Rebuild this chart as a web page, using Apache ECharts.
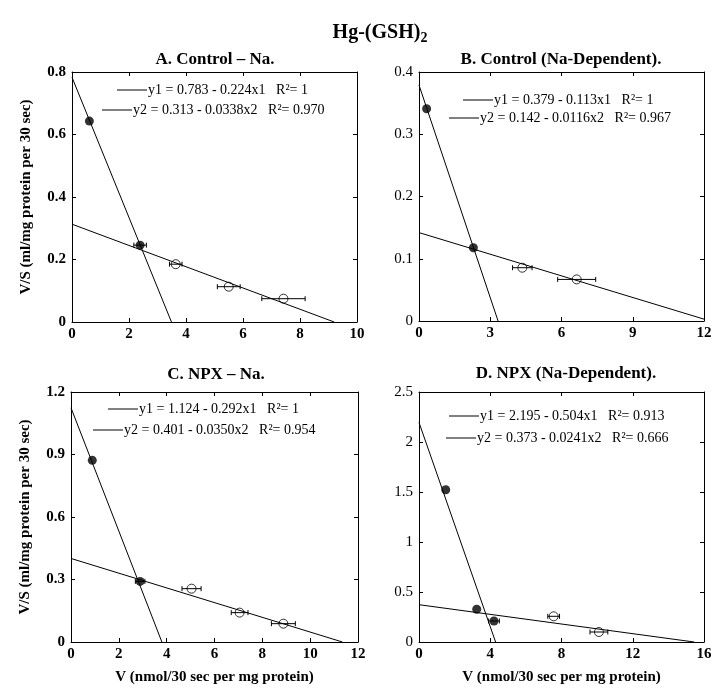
<!DOCTYPE html>
<html>
<head>
<meta charset="utf-8">
<script src="https://cdn.jsdelivr.net/npm/echarts@6/dist/echarts.min.js"></script>
<style>html,body{margin:0;padding:0;background:#fff}#c{width:722px;height:695px}</style>
</head>
<body>
<div id="c"></div>
<script>
// ---- data ----
const panelTitles = ['A. Control \u2013 Na.', 'B. Control (Na-Dependent).', 'C. NPX \u2013 Na.', 'D. NPX (Na-Dependent).'];
const xMax = [10, 12, 12, 16];
const xStep = [2, 3, 2, 4];
const yMax = [0.8, 0.4, 1.2, 2.5];
const yStep = [0.2, 0.1, 0.3, 0.5];

const legendA = ['y1 = 0.783 - 0.224x1   R\u00b2= 1', 'y2 = 0.313 - 0.0338x2   R\u00b2= 0.970'];
const legendB = ['y1 = 0.379 - 0.113x1   R\u00b2= 1', 'y2 = 0.142 - 0.0116x2   R\u00b2= 0.967'];
const legendC = ['y1 = 1.124 - 0.292x1   R\u00b2= 1', 'y2 = 0.401 - 0.0350x2   R\u00b2= 0.954'];
const legendD = ['y1 = 2.195 - 0.504x1   R\u00b2= 0.913', 'y2 = 0.373 - 0.0241x2   R\u00b2= 0.666'];

// fitted line end points [x, y]
const fitA1 = [[0, 0.783], [3.49, 0]];
const fitA2 = [[0, 0.313], [9.2, 0]];
const fitB1 = [[0, 0.379], [3.33, 0]];
const fitB2 = [[0, 0.142], [12, 0.003]];
const fitC1 = [[0, 1.124], [3.8, 0]];
const fitC2 = [[0, 0.401], [11.35, 0]];
const fitD1 = [[0, 2.195], [4.3, 0]];
const fitD2 = [[0, 0.373], [15.45, 0]];

// points [x, y, x error]
const filledA = [[0.61, 0.643, 0], [2.39, 0.246, 0.22]];
const openA = [[3.64, 0.185, 0.22], [5.5, 0.113, 0.4], [7.42, 0.0746, 0.76]];
const filledB = [[0.32, 0.341, 0], [2.29, 0.1176, 0]];
const openB = [[4.35, 0.0856, 0.41], [6.64, 0.0668, 0.8]];
const filledC = [[0.89, 0.872, 0], [2.89, 0.291, 0.2]];
const openC = [[5.04, 0.256, 0.4], [7.05, 0.141, 0.35], [8.88, 0.088, 0.5]];
const filledD = [[1.5, 1.523, 0], [3.24, 0.327, 0], [4.21, 0.21, 0.3]];
const openD = [[7.56, 0.257, 0.33], [10.1, 0.1, 0.5]];

const yName = 'V/S (ml/mg protein per 30 sec)';
const xName = 'V (nmol/30 sec per mg protein)';

// ---- layout ----
const FONT = 'Liberation Serif';
const grids = [
  {left: 72, top: 72, width: 285, height: 250},
  {left: 419, top: 72, width: 285, height: 249},
  {left: 71, top: 392, width: 287, height: 250},
  {left: 419, top: 392, width: 285, height: 250}
];
const legendPos = [
  [[117, 83], [102, 103]],
  [[463, 93], [449, 111]],
  [[108, 402], [93, 423]],
  [[449, 409], [446, 431]]
];
const legends = [legendA, legendB, legendC, legendD];
const fits = [[fitA1, fitA2], [fitB1, fitB2], [fitC1, fitC2], [fitD1, fitD2]];
const filled = [filledA, filledB, filledC, filledD];
const open = [openA, openB, openC, openD];
const yBold = [true, false, true, false];

const xAxis = [], yAxis = [], series = [], legend = [], graphic = [];

grids.forEach((g, i) => {
  const axBase = {
    min: 0, axisLine: {show: true, onZero: false, lineStyle: {color: '#000', width: 1}},
    axisTick: {show: true, inside: true, length: 4, lineStyle: {color: '#000'}},
    splitLine: {show: false}
  };
  xAxis.push(Object.assign({}, axBase, {
    type: 'value', gridIndex: i, position: 'bottom', max: xMax[i], interval: xStep[i],
    axisLabel: {color: '#000', fontFamily: FONT, fontSize: 15, fontWeight: 'bold', margin: 5},
    name: i >= 2 ? xName : '', nameLocation: 'middle', nameGap: 28,
    nameTextStyle: {color: '#000', fontFamily: FONT, fontSize: 15, fontWeight: 'bold'}
  }));
  xAxis.push(Object.assign({}, axBase, {
    type: 'value', gridIndex: i, position: 'top', max: xMax[i], interval: xStep[i],
    axisLabel: {show: false}
  }));
  yAxis.push(Object.assign({}, axBase, {
    type: 'value', gridIndex: i, position: 'left', max: yMax[i], interval: yStep[i],
    axisLabel: {color: '#000', fontFamily: FONT, fontSize: 15, fontWeight: yBold[i] ? 'bold' : 'normal', margin: 6},
    name: (i % 2 === 0) ? yName : '', nameLocation: 'middle', nameGap: 38,
    nameTextStyle: {color: '#000', fontFamily: FONT, fontSize: 15, fontWeight: 'bold'}
  }));
  yAxis.push(Object.assign({}, axBase, {
    type: 'value', gridIndex: i, position: 'right', max: yMax[i], interval: yStep[i],
    axisLabel: {show: false}
  }));
  const xi = i * 2, yi = i * 2;
  fits[i].forEach((f, k) => {
    series.push({
      type: 'line', name: legends[i][k], xAxisIndex: xi, yAxisIndex: yi, data: f,
      showSymbol: false, symbol: 'none', lineStyle: {color: '#000', width: 1}, itemStyle: {color: '#000'},
      silent: true, z: 2
    });
    legend.push({
      data: [legends[i][k]], left: legendPos[i][k][0], top: legendPos[i][k][1],
      icon: 'rect', itemWidth: 30, itemHeight: 1, itemGap: 0, padding: 0,
      textStyle: {color: '#000', fontFamily: FONT, fontSize: 14, padding: [0, 0, 0, -4]},
      selectedMode: false
    });
  });
  const errs = filled[i].concat(open[i]).filter(d => d[2] > 0);
  series.push({
    type: 'custom', xAxisIndex: xi, yAxisIndex: yi, data: errs, silent: true, z: 3,
    renderItem: function (params, api) {
      const x = api.value(0), y = api.value(1), e = api.value(2);
      const p1 = api.coord([x - e, y]), p2 = api.coord([x + e, y]);
      const st = {stroke: '#000', lineWidth: 1};
      return {type: 'group', children: [
        {type: 'line', shape: {x1: p1[0], y1: p1[1], x2: p2[0], y2: p2[1]}, style: st},
        {type: 'line', shape: {x1: p1[0], y1: p1[1] - 2.5, x2: p1[0], y2: p1[1] + 2.5}, style: st},
        {type: 'line', shape: {x1: p2[0], y1: p2[1] - 2.5, x2: p2[0], y2: p2[1] + 2.5}, style: st}
      ]};
    }
  });
  series.push({
    type: 'scatter', xAxisIndex: xi, yAxisIndex: yi, data: filled[i], symbol: 'circle', symbolSize: 9,
    itemStyle: {color: '#000'}, silent: true, z: 4
  });
  series.push({
    type: 'scatter', xAxisIndex: xi, yAxisIndex: yi, data: open[i], symbol: 'circle', symbolSize: 9,
    itemStyle: {color: 'rgba(255,255,255,0)', borderColor: '#000', borderWidth: 1}, silent: true, z: 4
  });
});

const titlePos = [[215, 60], [561, 60], [216, 375], [566, 374]];
panelTitles.forEach((t, i) => {
  graphic.push({type: 'text', x: titlePos[i][0], y: titlePos[i][1],
    style: {text: t, fill: '#000', font: 'bold 17px "' + FONT + '"', textAlign: 'center', textVerticalAlign: 'middle'}});
});
graphic.push({type: 'text', x: 380, y: 33,
  style: {text: '{a|Hg-(GSH)}{b|2}', textAlign: 'center', textVerticalAlign: 'middle',
    rich: {a: {fontFamily: FONT, fontSize: 20, fontWeight: 'bold', fill: '#000'},
           b: {fontFamily: FONT, fontSize: 14, fontWeight: 'bold', fill: '#000', padding: [10, 0, 0, 0]}}}});

const chart = echarts.init(document.getElementById('c'), null, {renderer: 'canvas'});
chart.setOption({
  animation: false,
  backgroundColor: '#fff',
  grid: grids.map(g => Object.assign({containLabel: false}, g)),
  xAxis, yAxis, series, legend, graphic
});
</script>
</body>
</html>
